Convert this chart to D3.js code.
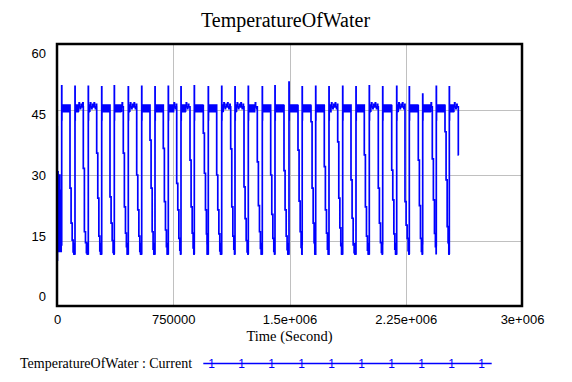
<!DOCTYPE html>
<html><head><meta charset="utf-8">
<script src="https://cdn.jsdelivr.net/npm/d3@7"></script>
<style>body{margin:0;background:#fff}svg{display:block}</style>
</head><body>
<svg id="c" width="572" height="382"></svg>
<script>
// ---- data ----
const xTickValues = [0, 750000, 1500000, 2250000, 3000000];
const xTickLabels = ["0", "750000", "1.5e+006", "2.25e+006", "3e+006"];
const yTickValues = [0, 15, 30, 45, 60];
const yTickLabels = ["0", "15", "30", "45", "60"];

// start of run (seconds, °)
const initialTimes = [0, 1500, 3000, 7000, 10000, 13000, 15000, 18000, 21000, 24000, 27000];
const initialTemps = [41, 10.5, 30.7, 20.4, 15.5, 12.5, 30, 26.5, 14, 12.5, 14];

// daily heating spike time and top value
const spikeTimes = [30300, 116100, 201900, 288400, 369700, 460000, 546500, 632300, 718100, 800000,
  885800, 976100, 1062600, 1148400, 1234200, 1324500, 1406400, 1496800, 1581900, 1669000,
  1754800, 1843200, 1929000, 2014800, 2101300, 2191600, 2272900, 2359400, 2447100, 2531100];
const peakTemps = [50.4, 50.3, 50.3, 50.2, 50.4, 50.2, 50.3, 50.2, 50.3, 50.2, 50.4, 50.2, 50.3, 50.2, 50.3,
  50.2, 50.4, 51.3, 50.2, 50.3, 50.2, 50.3, 50.2, 50.4, 50.2, 50.3, 50.2, 48.5, 50.3, 50.2];
const postPeakTemp = 42.6;
// share of the plateau that is noisy (thick band)
const noisyShare = [1, 0.4, 0.15, 1, 0.8, 0.15, 1, 1, 0.6, 0.5, 1, 1, 0.15, 0.15, 0.7, 1, 1, 1, 1, 1,
  0.2, 1, 1, 0.15, 1, 0.15, 1, 0.8, 1, 0.5];
const bandRipple = [45.9, 44.6, 45.8, 44.7, 46.0, 44.5, 45.9, 44.8, 45.8, 44.6];
const thinRipple = [45.6, 45.6, 46.5, 45.6, 45.6, 45.6, 45.2, 45.6, 45.6, 46.2, 45.6, 45.6];

// daily cooling: drop time and step levels
const dropTimes = [83900, 169700, 256100, 341900, 427700, 514200, 600000, 685800, 772300, 858100,
  943900, 1030300, 1120600, 1206500, 1292300, 1378700, 1464500, 1554800, 1638700, 1724500,
  1811000, 1896800, 1982600, 2072900, 2159400, 2245200, 2331000, 2421300, 2503200, 2589100];
const step1 = [27, 31.5, 35, 25, 35, 30, 38, 36.1, 28.1, 33.4, 39.6, 30, 36, 27.3, 33, 30, 31, 35.7, 42.2, 31.9,
  37.6, 28.9, 34.6, 27, 31.1, 23.9, 33.4, 33.7, 39.9];
const step2 = [19, 17, 24.7, 19, 22.7, 22, 27, 23.9, 22, 22.7, 30.4, 22, 22.7, 20, 23, 21, 22, 24, 27, 22,
  24.7, 20.1, 22.7, 19, 24.3, 18.5, 23, 24.3, 28.9];
const step3 = [15.1, 14.5, 16, 15, 16.7, 16, 17, 17.4, 15.5, 16.7, 22, 16.5, 16, 15, 17, 15.5, 16, 17, 19, 16.7,
  17.9, 14, 16, 14.5, 16.5, 15.5, 15.5, 16.6, 18.2];
const lowTemps = [12.4, 12.2, 12.6, 12.3, 13.6, 12.5, 13, 13.6, 12.8, 13.3, 16.5, 12.6, 13, 12.4, 13.2, 12.5,
  12.9, 13.4, 14.5, 13, 13.8, 12.2, 12.8, 12.3, 13, 12.7, 12.5, 13.6, 14.5];
const lowRipple = [14.3, 12.0, 13.9, 11.9, 14.1, 12.1];
const finalTemp = 34.6;
const endTime = 2592000;

const legendLabel = "TemperatureOfWater : Current";

// ---- build series ----
const pts = [];
initialTimes.forEach((t, i) => pts.push([t, initialTemps[i]]));
for (let d = 0; d < spikeTimes.length; d++) {
  const T = spikeTimes[d], D = dropTimes[d];
  pts.push([T, peakTemps[d]]);
  pts.push([T + 700, postPeakTemp]);
  let t = T + 1400, k = 0;
  const noisyEnd = t + noisyShare[d] * (D - t);
  while (t < noisyEnd) { pts.push([t, bandRipple[k % bandRipple.length]]); t += 700; k++; }
  k = 0;
  while (t < D) { pts.push([t, thinRipple[k % thinRipple.length]]); t += 2000; k++; }
  if (d === spikeTimes.length - 1) { pts.push([D, finalTemp]); pts.push([endTime, finalTemp]); break; }
  pts.push([D, step1[d]]);
  pts.push([D + 7000, step2[d]]);
  pts.push([D + 14000, step3[d]]);
  pts.push([D + 20000, lowTemps[d]]);
  let t2 = D + 24000; k = 0;
  while (t2 < spikeTimes[d + 1] - 300) { pts.push([t2, lowRipple[k % lowRipple.length]]); t2 += 600; k++; }
}

// ---- drawing ----
const svg = d3.select("#c");
const L = 57, R = 522, Tp = 44, B = 306;
const x = d3.scaleLinear().domain([0, 3000000]).range([L, R]);
const y = d3.scaleLinear().domain([0, 60]).range([B, Tp]);
const yLab = d3.scaleLinear().domain([0, 60]).range([296.7, 53.3]);

svg.append("text").attr("x", 285.5).attr("y", 27).attr("text-anchor", "middle")
  .attr("font-family", "Liberation Serif").attr("font-size", 20).text("TemperatureOfWater");

// grid
const g = svg.append("g").attr("stroke", "#c0c0c0").attr("stroke-width", 1);
g.selectAll("line.h").data(yTickValues.slice(1, -1)).join("line")
  .attr("x1", L).attr("x2", R).attr("y1", d => Math.round(y(d)) + 0.5).attr("y2", d => Math.round(y(d)) + 0.5);
g.selectAll("line.v").data(xTickValues.slice(1, -1)).join("line")
  .attr("y1", Tp).attr("y2", B).attr("x1", d => Math.round(x(d)) + 0.5).attr("x2", d => Math.round(x(d)) + 0.5);

// series
svg.append("clipPath").attr("id", "clip").append("rect").attr("x", L).attr("y", Tp).attr("width", R - L).attr("height", B - Tp);
const line = d3.line().x(d => x(d[0])).y(d => y(d[1])).curve(d3.curveStepAfter);
svg.append("path").datum(pts).attr("clip-path", "url(#clip)").attr("fill", "none")
  .attr("stroke", "#0000ff").attr("stroke-width", 1.7).attr("d", line);

// frame
svg.append("rect").attr("x", L).attr("y", Tp).attr("width", R - L).attr("height", B - Tp)
  .attr("fill", "none").attr("stroke", "#000").attr("stroke-width", 2.5);

// axes
const xAxis = d3.axisBottom(x).tickValues(xTickValues).tickSize(0).tickPadding(9)
  .tickFormat((d, i) => xTickLabels[i]);
const xg = svg.append("g").attr("transform", `translate(0,${B})`).call(xAxis);
xg.select(".domain").remove();
xg.selectAll("text").attr("font-family", "Liberation Sans").attr("font-size", 13).attr("fill", "#000");

const yAxis = d3.axisLeft(yLab).tickValues(yTickValues).tickSize(0).tickPadding(11)
  .tickFormat((d, i) => yTickLabels[i]);
const yg = svg.append("g").attr("transform", `translate(${L},0)`).call(yAxis);
yg.select(".domain").remove();
yg.selectAll("text").attr("font-family", "Liberation Sans").attr("font-size", 13).attr("fill", "#000");

svg.append("text").attr("x", 289.5).attr("y", 341).attr("text-anchor", "middle")
  .attr("font-family", "Liberation Serif").attr("font-size", 14.5).text("Time (Second)");

// legend
svg.append("text").attr("x", 20).attr("y", 368).attr("font-family", "Liberation Serif")
  .attr("font-size", 14).text(legendLabel);
svg.append("line").attr("x1", 203.3).attr("x2", 491.7).attr("y1", 363.5).attr("y2", 363.5)
  .attr("stroke", "#0000ff").attr("stroke-width", 1.3);
svg.selectAll("text.mk").data(d3.range(10)).join("text").attr("class", "mk")
  .attr("x", i => 211.7 + i * 30).attr("y", 367.7).attr("text-anchor", "middle")
  .attr("font-family", "Liberation Sans").attr("font-size", 12).attr("fill", "#0000ff").text("1");
</script>
</body></html>
